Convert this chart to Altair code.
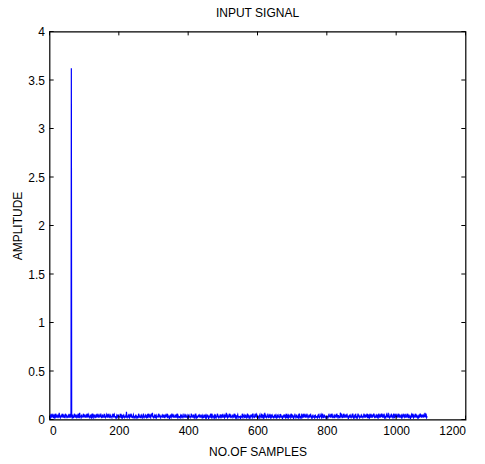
import altair as alt
import pandas as pd

# Noise samples, in hundredths of amplitude, one digit per sample (read as a band ~0.02-0.08)
NOISE_DIGITS = (
    "32435263342253423624332534273324253362352432263452"
    "23342532623433245223362432532342632274332452333623"
    "43325326342453323253423632433522343263342524333632"
    "23524332623233542432653224333243362453323324352343"
    "33262434232352432334283233425324336243223542332352"
    "42332362433225342423632334253234226334253243637232"
    "33422534233342633524233352432532243353622433242353"
    "23633425233252342632433223342352432336233425233243"
    "52433233624332532342363242233533424253324322452342"
    "34233532423342632362423342353423336241332534352426"
    "23342325372342334263342233532342633243232453323332"
    "42332632433422352423632343242353342363322433623542"
    "33232453323625342323742532333622342532435243323352"
    "24332435243323552433242335234324622432435233423623"
    "53242336242353223423642332462534263342523362423352"
    "42633242352332445223332452632334532436223452332423"
    "33242633342526342233522433426332443222753362234265"
    "23352426332423352432342563242352642332463524233252"
    "43323362432533362243532462352432536342233524353246"
    "32524336342532642332453342723324332635242365224336"
    "23342635243325342326443526233426342253324235426332"
    "4332634253324235243633253352433472634233"
)
SPIKE_SAMPLE = 63
SPIKE_VALUE = 3.62

X_TICKS = [0, 200, 400, 600, 800, 1000, 1200]
Y_TICKS = [0, 0.5, 1, 1.5, 2, 2.5, 3, 3.5, 4]

samples = list(range(1, len(NOISE_DIGITS) + 1))
amps = [int(c) / 100 for c in NOISE_DIGITS]
amps[SPIKE_SAMPLE - 1] = SPIKE_VALUE
df = pd.DataFrame({"n": samples, "a": amps})

FONT = "Liberation Sans"
FS = 12
xs = alt.Scale(domain=[0, 1200], nice=False)
ys = alt.Scale(domain=[0, 4], nice=False)

line = alt.Chart(df).mark_line(color="#0000ff", strokeWidth=1.2, clip=True).encode(
    x=alt.X("n:Q", scale=xs, title="NO.OF SAMPLES",
            axis=alt.Axis(values=X_TICKS, format="d", tickSize=0, labelPadding=6, domain=False,
                          grid=False, labelFontSize=FS, titleFontSize=FS, titleFontWeight="normal",
                          labelFont=FONT, titleFont=FONT, titlePadding=10, labelColor="black",
                          titleColor="black")),
    y=alt.Y("a:Q", scale=ys, title="AMPLITUDE",
            axis=alt.Axis(values=Y_TICKS, format="~g", tickSize=0, labelPadding=5, domain=False,
                          grid=False, labelFontSize=FS, titleFontSize=FS, titleFontWeight="normal",
                          labelFont=FONT, titleFont=FONT, titlePadding=3, labelColor="black",
                          titleColor="black")),
)

xt = pd.DataFrame({"v": X_TICKS})
yt = pd.DataFrame({"v": Y_TICKS})

xbot = alt.Chart(xt).mark_rule(color="black", strokeWidth=1).encode(
    x=alt.X("v:Q", scale=xs), y=alt.datum(0), y2=alt.datum(0.04))
xtop = alt.Chart(xt).mark_rule(color="black", strokeWidth=1).encode(
    x=alt.X("v:Q", scale=xs), y=alt.datum(4), y2=alt.datum(3.96))
yl = alt.Chart(yt).mark_rule(color="black", strokeWidth=1).encode(
    y=alt.Y("v:Q", scale=ys), x=alt.datum(0), x2=alt.datum(12))
yr = alt.Chart(yt).mark_rule(color="black", strokeWidth=1).encode(
    y=alt.Y("v:Q", scale=ys), x=alt.datum(1200), x2=alt.datum(1188))

chart = alt.layer(line, xbot, xtop, yl, yr).properties(
    width=416, height=388,
    background="white",
    title=alt.TitleParams("INPUT SIGNAL", font=FONT, fontSize=FS, fontWeight="normal",
                          color="black", offset=6),
    autosize=alt.AutoSizeParams(type="none"),
    padding={"left": 49.5, "top": 31.5, "right": 19, "bottom": 44},
).configure_view(stroke="#000000", strokeWidth=1.2)

chart.save("out.html", embed_options={"renderer": "svg", "actions": False})
